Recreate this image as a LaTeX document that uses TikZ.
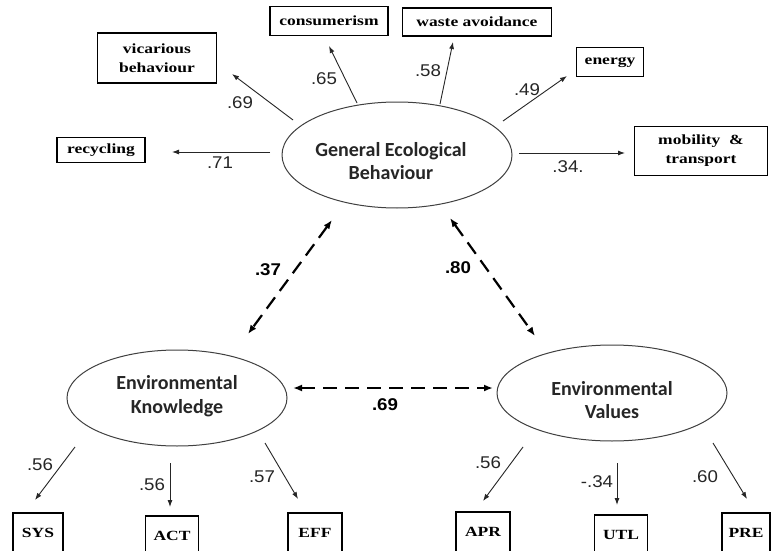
\documentclass[tikz,border=0pt]{standalone}
\usepackage{fontspec}
\setmainfont{Liberation Serif}
\newfontfamily\boxfont[FakeStretch=1.25]{Liberation Serif}
\newfontfamily\numfont[FakeStretch=1.1]{Liberation Sans}
\newfontfamily\ellfont{Carlito}
\usetikzlibrary{calc,arrows.meta,shapes.geometric}
\begin{document}
\begin{tikzpicture}[x=1pt,y=-1pt,
 box/.style={draw, line width=1.1pt, font=\boxfont\bfseries\fontsize{14}{19}\selectfont, align=center, inner sep=0pt},
 lat/.style={draw=black!75, ellipse, line width=1pt, inner sep=0pt},
 lattext/.style={font=\ellfont\bfseries\fontsize{20}{23.5}\selectfont, align=center, inner sep=0pt, text=black!85},
 pathar/.style={-{Latex[length=7pt,width=5pt]}, line width=0.9pt, draw=black!85},
 cov/.style={{Latex[length=9pt,width=7pt]}-{Latex[length=9pt,width=7pt]}, line width=2.2pt, dash pattern=on 14pt off 8pt},
 num/.style={font=\numfont\fontsize{17}{20}\selectfont, inner sep=0pt, text=black!85},
 bnum/.style={font=\numfont\bfseries\fontsize{17}{20}\selectfont, inner sep=0pt}]
\useasboundingbox[fill=white] (0,0) rectangle (771,551);

% latent variables
\node[lat, minimum width=230pt, minimum height=106pt] (geb) at (397,155) {};
\node[lat, minimum width=220pt, minimum height=96pt] (ek) at (177,398) {};
\node[lat, minimum width=230pt, minimum height=96pt] (ev) at (612,393) {};
\node[lattext] (gebt) at (391,161) {General Ecological\\Behaviour};
\node[lattext] (ekt) at (177,396) {Environmental\\Knowledge};
\node[lattext] (evt) at (612,400) {Environmental\\Values};

% indicators of GEB
\node[box, minimum width=88pt, minimum height=25pt] (rec) at (101,150) {recycling};
\node[box, minimum width=119pt, minimum height=50pt] (vic) at (157,58) {vicarious\\behaviour};
\node[box, minimum width=118pt, minimum height=29pt] (con) at (329,21) {consumerism};
\node[box, minimum width=149pt, minimum height=28pt] (was) at (477,22) {waste avoidance};
\node[box, minimum width=67pt, minimum height=29pt] (ene) at (610,62) {energy};
\node[box, minimum width=133pt, minimum height=49pt] (mob) at (701,151) {mobility \ \&\\transport};

% indicators of EK and EV
\node[box, minimum width=50pt, minimum height=40pt] (sys) at (38,533) {SYS};
\node[box, minimum width=53pt, minimum height=40pt] (act) at (172,536) {ACT};
\node[box, minimum width=54pt, minimum height=40pt] (eff) at (315,533) {EFF};
\node[box, minimum width=54pt, minimum height=40pt] (apr) at (483,532) {APR};
\node[box, minimum width=53pt, minimum height=40pt] (utl) at (621,535) {UTL};
\node[box, minimum width=48pt, minimum height=40pt] (pre) at (746,533) {PRE};

% GEB paths
\draw[pathar] ($(geb)+(-127,-3)$) -- ($(rec)+(71,2)$);
\draw[pathar] ($(geb)+(-104,-35)$) -- ($(vic)+(75,16)$);
\draw[pathar] ($(geb)+(-40,-52)$) -- ($(con)+(0,25)$);
\draw[pathar] ($(geb)+(43,-51)$) -- ($(was)+(-24,20)$);
\draw[pathar] ($(geb)+(106,-34)$) -- ($(ene)+(-43,14)$);
\draw[pathar] ($(geb)+(122,-2)$) -- ($(mob)+(-76,2)$);

\node[num] (l71) at (220,163) {.71};
\node[num] (l69a) at (240,103) {.69};
\node[num] (l65) at (324,79) {.65};
\node[num] (l58) at (428,71) {.58};
\node[num] (l49) at (527,90) {.49};
\node[num] (l34) at (568,167) {.34.};

% covariances
\draw[cov] ($(geb)+(-65,65)$) -- ($(ek)+(71,-64)$);
\draw[cov] ($(geb)+(53,63)$) -- ($(ev)+(-77,-57)$);
\draw[cov] ($(ek)+(116,-10)$) -- ($(ev)+(-119,-5)$);
\node[bnum] (l37) at (268,270) {.37};
\node[bnum] (l80) at (458,268) {.80};
\node[bnum] (l69b) at (385,405) {.69};

% EK paths
\draw[pathar] ($(ek)+(-102,49)$) -- ($(sys)+(-3,-33)$);
\draw[pathar] ($(ek)+(-7,65)$) -- ($(act)+(-2,-29)$);
\draw[pathar] ($(ek)+(88,45)$) -- ($(eff)+(-17,-34)$);
\node[num] (l56a) at (40,465) {.56};
\node[num] (l56b) at (152,485) {.56};
\node[num] (l57) at (262,477) {.57};

% EV paths
\draw[pathar] ($(ev)+(-89,54)$) -- ($(apr)+(0,-31)$);
\draw[pathar] ($(ev)+(5,70)$) -- ($(utl)+(-4,-30)$);
\draw[pathar] ($(ev)+(101,50)$) -- ($(pre)+(1,-34)$);
\node[num] (l56c) at (488,463) {.56};
\node[num] (l34b) at (597,482) {-.34};
\node[num] (l60) at (705,477) {.60};
\end{tikzpicture}
\end{document}
